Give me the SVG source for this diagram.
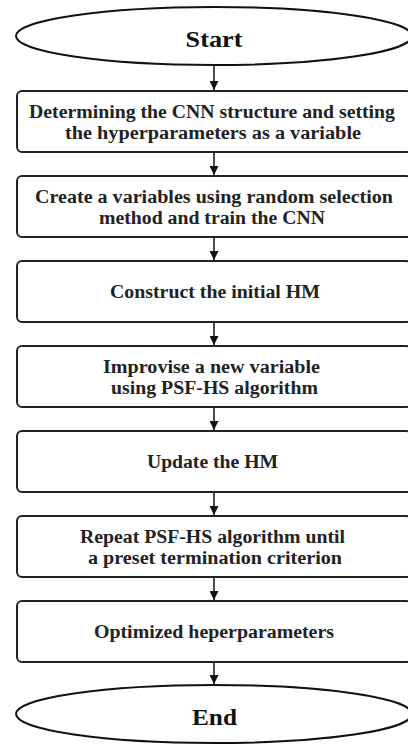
<svg xmlns="http://www.w3.org/2000/svg" width="408" height="744" viewBox="0 0 408 744">
<style>
.t{font-family:"Liberation Serif","Times New Roman",serif;font-weight:bold;font-size:18px;fill:#222;text-anchor:middle}
.tt{font-family:"Liberation Serif","Times New Roman",serif;font-weight:bold;font-size:23px;fill:#111;text-anchor:middle}
.b{fill:#fff;stroke:#222;stroke-width:2}
.e{fill:#fff;stroke:#111;stroke-width:2}
.c{stroke:#111;stroke-width:1.5;fill:none}
</style>
<defs>
<marker id="ah" viewBox="0 0 10 10" refX="10" refY="5" markerWidth="9" markerHeight="9" markerUnits="userSpaceOnUse" orient="auto">
<path d="M0,0 L10,5 L0,10 z" fill="#111"/>
</marker>
</defs>
<rect width="408" height="744" fill="#fff"/>
<g id="connectors">
<line class="c" x1="214" y1="65" x2="214" y2="90" marker-end="url(#ah)"/>
<line class="c" x1="214" y1="152" x2="214" y2="175" marker-end="url(#ah)"/>
<line class="c" x1="214" y1="237" x2="214" y2="260" marker-end="url(#ah)"/>
<line class="c" x1="214" y1="322" x2="214" y2="345" marker-end="url(#ah)"/>
<line class="c" x1="214" y1="407" x2="214" y2="430" marker-end="url(#ah)"/>
<line class="c" x1="214" y1="492" x2="214" y2="515" marker-end="url(#ah)"/>
<line class="c" x1="214" y1="577" x2="214" y2="600" marker-end="url(#ah)"/>
<line class="c" x1="214" y1="662" x2="214" y2="684" marker-end="url(#ah)"/>
</g>
<g id="start">
<ellipse class="e" cx="214" cy="36" rx="198" ry="29"/>
<text class="tt" x="214" y="47" textLength="57" lengthAdjust="spacingAndGlyphs">Start</text>
</g>
<g id="n1">
<rect class="b" x="17" y="91" width="394" height="61" rx="5"/>
<text class="t" x="212" y="118" textLength="366" lengthAdjust="spacingAndGlyphs">Determining the CNN structure and setting</text>
<text class="t" x="213" y="139" textLength="296" lengthAdjust="spacingAndGlyphs">the hyperparameters as a variable</text>
</g>
<g id="n2">
<rect class="b" x="17" y="176" width="394" height="61" rx="5"/>
<text class="t" x="214" y="203" textLength="358" lengthAdjust="spacingAndGlyphs">Create a variables using random selection</text>
<text class="t" x="212" y="224" textLength="226" lengthAdjust="spacingAndGlyphs">method and train the CNN</text>
</g>
<g id="n3">
<rect class="b" x="17" y="261" width="394" height="61" rx="5"/>
<text class="t" x="215" y="298" textLength="210" lengthAdjust="spacingAndGlyphs">Construct the initial HM</text>
</g>
<g id="n4">
<rect class="b" x="17" y="346" width="394" height="61" rx="5"/>
<text class="t" x="211.5" y="373" textLength="217" lengthAdjust="spacingAndGlyphs">Improvise a new variable</text>
<text class="t" x="214.5" y="394" textLength="207" lengthAdjust="spacingAndGlyphs">using PSF-HS algorithm</text>
</g>
<g id="n5">
<rect class="b" x="17" y="431" width="394" height="61" rx="5"/>
<text class="t" x="212.5" y="468" textLength="131" lengthAdjust="spacingAndGlyphs">Update the HM</text>
</g>
<g id="n6">
<rect class="b" x="17" y="516" width="394" height="61" rx="5"/>
<text class="t" x="212.5" y="543" textLength="265" lengthAdjust="spacingAndGlyphs">Repeat PSF-HS algorithm until</text>
<text class="t" x="215" y="564" textLength="254" lengthAdjust="spacingAndGlyphs">a preset termination criterion</text>
</g>
<g id="n7">
<rect class="b" x="17" y="601" width="394" height="61" rx="5"/>
<text class="t" x="214" y="638" textLength="240" lengthAdjust="spacingAndGlyphs">Optimized heperparameters</text>
</g>
<g id="end">
<ellipse class="e" cx="214" cy="714" rx="198" ry="29"/>
<text class="tt" x="214.5" y="725" textLength="45" lengthAdjust="spacingAndGlyphs">End</text>
</g>
</svg>
